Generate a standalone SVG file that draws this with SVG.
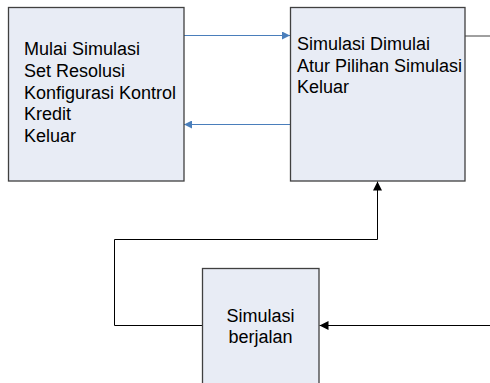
<svg xmlns="http://www.w3.org/2000/svg" width="490" height="383" viewBox="0 0 490 383">
<style>
.box{fill:#e8ecf5;stroke:#404040;stroke-width:1.3}
.t{font-family:"Liberation Sans",Arial,sans-serif;font-size:18px;fill:#000}
.blue{stroke:#4a7ebb;stroke-width:1;fill:none}
.blk{stroke:#000;stroke-width:1;fill:none}
</style>
<defs>
<marker id="ab" viewBox="0 0 10 10" refX="10" refY="5" markerWidth="10" markerHeight="8" markerUnits="userSpaceOnUse" orient="auto"><path d="M0,0 L10,5 L0,10 z" fill="#4a7ebb"/></marker>
<marker id="ak" viewBox="0 0 10 10" refX="10" refY="5" markerWidth="11" markerHeight="9" markerUnits="userSpaceOnUse" orient="auto"><path d="M0,0 L10,5 L0,10 z" fill="#000"/></marker>
</defs>
<g id="connectors">
<line class="blue" x1="184" y1="35.5" x2="290" y2="35.5" marker-end="url(#ab)"/>
<line class="blue" x1="290" y1="124.5" x2="184" y2="124.5" marker-end="url(#ab)"/>
<line x1="465" y1="36" x2="490" y2="36" stroke="#404040" stroke-width="1"/>
<polyline class="blk" points="202,325.5 114.5,325.5 114.5,239.5 377.5,239.5 377.5,181.5" marker-end="url(#ak)"/>
<line class="blk" x1="490" y1="325.5" x2="319.5" y2="325.5" marker-end="url(#ak)"/>
</g>
<g id="node1">
<rect class="box" x="8.5" y="7.5" width="175.5" height="173.5"/>
<text class="t" x="24" y="55">Mulai Simulasi</text>
<text class="t" x="24" y="76.5">Set Resolusi</text>
<text class="t" x="24" y="98.5">Konfigurasi Kontrol</text>
<text class="t" x="24" y="120">Kredit</text>
<text class="t" x="24" y="141.5">Keluar</text>
</g>
<g id="node2">
<rect class="box" x="290.5" y="7.5" width="174.5" height="173.5"/>
<text class="t" x="297" y="50">Simulasi Dimulai</text>
<text class="t" x="297" y="71.5">Atur Pilihan Simulasi</text>
<text class="t" x="297" y="93">Keluar</text>
</g>
<g id="node3">
<rect class="box" x="202.5" y="268.5" width="116.5" height="130"/>
<text class="t" x="260.5" y="321.5" text-anchor="middle">Simulasi</text>
<text class="t" x="260.5" y="343" text-anchor="middle">berjalan</text>
</g>
</svg>
